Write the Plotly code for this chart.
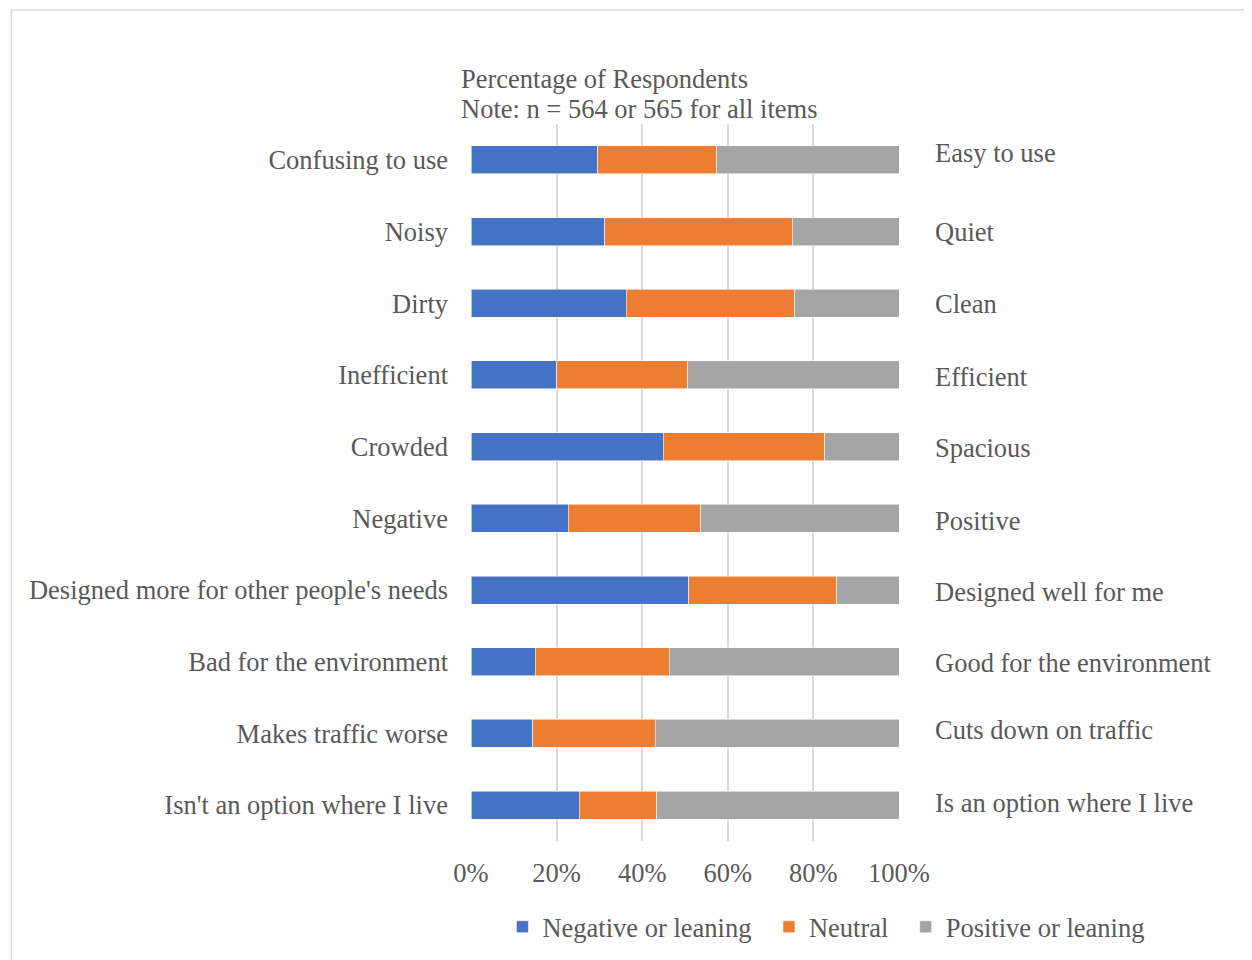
import plotly.graph_objects as go

left_labels = ["Confusing to use", "Noisy", "Dirty", "Inefficient", "Crowded", "Negative",
               "Designed more for other people's needs", "Bad for the environment",
               "Makes traffic worse", "Isn't an option where I live"]
right_labels = ["Easy to use", "Quiet", "Clean", "Efficient", "Spacious", "Positive",
                "Designed well for me", "Good for the environment",
                "Cuts down on traffic", "Is an option where I live"]
negative = [29.6, 31.2, 36.3, 20.0, 44.9, 22.7, 50.9, 15.0, 14.4, 25.3]
neutral = [27.8, 43.8, 39.3, 30.6, 37.7, 31.0, 34.5, 31.3, 28.7, 18.1]
positive = [42.6, 25.0, 24.4, 49.4, 17.4, 46.3, 14.6, 53.7, 56.9, 56.6]
series_names = ["Negative or leaning", "Neutral", "Positive or leaning"]
colors = ["#4472C4", "#ED7D31", "#A5A5A5"]
x_ticks = [0, 20, 40, 60, 80, 100]
x_tick_text = ["0%", "20%", "40%", "60%", "80%", "100%"]
title_lines = ["Percentage of Respondents", "Note: n = 564 or 565 for all items"]

FONT = "Liberation Serif, Times New Roman, serif"
TXT = "#595959"
FS = 26.5

OFF = 8  # browser body margin
W, H = 1252 - OFF, 960 - OFF
# plot area in screen pixels
L, R = 470.5, 899.3
T, B = 124, 841
pw, ph = R - L, B - T


def px(x):
    return (x - L) / pw


def py(y):
    return (B - y) / ph


legend_ids = ["legend", "legend2", "legend3"]
legend_text_x = [542, 809, 946]  # screen x where each legend text starts

fig = go.Figure()
for name, vals, c, lg in zip(series_names, [negative, neutral, positive], colors, legend_ids):
    fig.add_trace(go.Bar(
        y=left_labels, x=vals, name=name, orientation="h", legend=lg,
        marker=dict(color=c, line=dict(color="rgba(255,255,255,0.7)", width=0.8)),
        hoverinfo="x+y+name",
    ))

# small vertical nudges of the right-hand labels (as laid out in the original)
right_nudge = [-7, 0, 1, 2, 1, 3, 2, 1, -3, -2]
for lab, rl, dy in zip(left_labels, right_labels, right_nudge):
    fig.add_annotation(x=1, xref="paper", y=lab, yref="y", text=rl,
                       showarrow=False, xanchor="left", xshift=34, yshift=-dy,
                       font=dict(family=FONT, size=FS, color=TXT))

for line, yy in zip(title_lines, [79, 109]):
    fig.add_annotation(x=px(458), xref="paper", y=py(yy), yref="paper", text=line,
                       showarrow=False, xanchor="left", yanchor="middle", align="left",
                       font=dict(family=FONT, size=FS, color=TXT))

# chart outer border
fig.add_shape(type="rect", xref="paper", yref="paper",
              x0=px(10), x1=px(1300), y0=py(1000), y1=py(10),
              line=dict(color="#D9D9D9", width=1.5), fillcolor="rgba(0,0,0,0)", layer="below")

legend_common = dict(orientation="h", xanchor="left", y=py(927), yanchor="middle",
                     bgcolor="rgba(0,0,0,0)", itemwidth=30,
                     font=dict(family=FONT, size=FS, color=TXT))
legends = {lg: dict(x=px(tx - 40), **legend_common) for lg, tx in zip(legend_ids, legend_text_x)}

fig.update_layout(
    width=W, height=H,
    margin=dict(l=L - OFF, r=W - (R - OFF), t=T - OFF, b=H - (B - OFF), autoexpand=False),
    barmode="stack", bargap=0.61,
    paper_bgcolor="white", plot_bgcolor="white",
    font=dict(family=FONT, size=FS, color=TXT),
    showlegend=True,
    xaxis=dict(range=[0, 100], tickvals=x_ticks, ticktext=x_tick_text, showgrid=True,
               gridcolor="#D9D9D9", gridwidth=1.5, zeroline=False, showline=False,
               ticks="", ticklabelstandoff=13, fixedrange=True),
    yaxis=dict(autorange="reversed", showgrid=False, zeroline=False, showline=False,
               ticks="", ticklabelstandoff=22, fixedrange=True),
    **legends,
)

fig.write_html("out.html")
